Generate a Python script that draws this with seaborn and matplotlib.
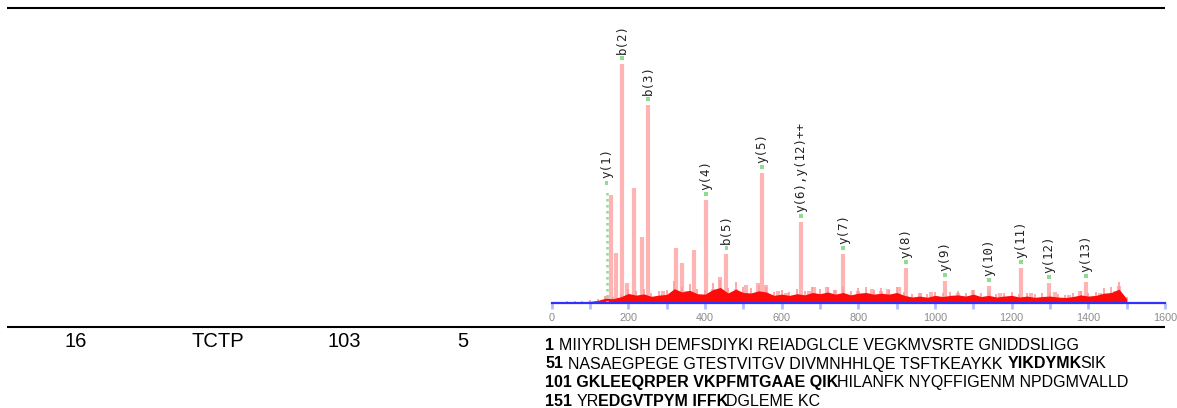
import matplotlib
matplotlib.use("Agg")
import matplotlib.pyplot as plt
from matplotlib.lines import Line2D
import numpy as np
import pandas as pd
import seaborn as sns

# ------------------------------------------------------------------ data
row_cells = ["16", "TCTP", "103", "5"]

# annotated fragment ions: label, m/z, intensity (% of base peak) at label
ion_labels = ["y(1)", "b(2)", "b(3)", "y(4)", "b(5)", "y(5)", "y(6),y(12)++",
              "y(7)", "y(8)", "y(9)", "y(10)", "y(11)", "y(12)", "y(13)"]
ion_mz = [143, 184, 252, 402, 456, 549.5, 649.5, 761, 924, 1026, 1141, 1224, 1298, 1394]
ion_int = [47.9, 100, 82.8, 43.1, 20.5, 54.4, 33.9, 20.5, 14.6, 9.2, 7.1, 14.6, 8.4, 8.8]

# centroided peaks (m/z, relative intensity %)
peak_mz = [143, 156, 167, 184, 196, 215, 236, 252, 290, 323, 340, 350, 371, 401.7,
           420, 439, 456, 480, 508, 539, 549.5, 559, 590, 612, 649.5, 670, 684, 717,
           739, 761, 800, 835, 860, 878, 907, 924, 960, 990, 1026, 1060, 1100, 1141,
           1170, 1224, 1250, 1298, 1313, 1350, 1379, 1394, 1430, 1470, 1481]
peak_int = [3, 45.2, 20.9, 100, 8.4, 48.1, 27.6, 82.8, 5, 23, 16.7, 5, 22.2, 43.1,
            6, 10.9, 20.5, 6, 7.5, 8.4, 54.4, 7.5, 5, 4, 33.9, 5, 6.7, 6.7,
            5.4, 20.5, 5, 5.9, 5, 5.9, 6.7, 14.6, 4, 4.5, 9.2, 4, 5.4, 7.1,
            4, 14.6, 4, 8.4, 4.6, 3.5, 5, 8.8, 4, 5, 7.1]

# low-level background (m/z, relative intensity %)
noise_mz = [40, 60, 80, 100, 120, 140, 160, 180, 200, 220, 240, 260, 280, 300,
            320, 340, 360, 380, 400, 420, 440, 460, 480, 500, 520, 540, 560, 580,
            600, 620, 640, 660, 680, 700, 720, 740, 760, 780, 800, 820, 840, 860,
            880, 900, 920, 940, 960, 980, 1000, 1020, 1040, 1060, 1080, 1100, 1120,
            1140, 1160, 1180, 1200, 1220, 1240, 1260, 1280, 1300, 1320, 1340, 1360,
            1380, 1400, 1420, 1440, 1460, 1480, 1500]
noise_int = [0.5, 0.6, 0.6, 0.7, 1.1, 2.0, 1.8, 2.6, 4.0, 3.3, 3.8, 2.8, 3.3, 3.6,
             6.0, 4.6, 5.3, 3.9, 3.7, 5.6, 6.5, 4.2, 5.8, 4.4, 4.2, 5.1, 4.6, 3.2,
             3.7, 3.2, 3.9, 3.4, 4.4, 3.9, 4.6, 3.7, 4.4, 3.4, 4.1, 4.4, 3.7, 4.1,
             3.7, 4.4, 3.2, 2.5, 2.9, 2.4, 3.2, 2.7, 3.2, 3.4, 2.9, 3.7, 2.7,
             3.2, 2.5, 2.9, 3.2, 2.5, 2.9, 2.4, 2.7, 2.9, 2.5, 2.3, 2.7,
             3.4, 2.9, 3.2, 4.1, 4.4, 5.8, 1.8]

x_tick_major = [0, 200, 400, 600, 800, 1000, 1200, 1400, 1600]
x_tick_minor = [100, 300, 500, 700, 900, 1100, 1300, 1500]

seq_lines = [
    [("1", True), (" MIIYRDLISH DEMFSDIYKI REIADGLCLE VEGKMVSRTE GNIDDSLIGG", False)],
    [("51", True), (" NASAEGPEGE GTESTVITGV DIVMNHHLQE TSFTKEAYKK ", False),
     ("YIKDYMK", True), ("SIK", False)],
    [("101 GKLEEQRPER VKPFMTGAAE QIK", True), ("HILANFK NYQFFIGENM NPDGMVALLD", False)],
    [("151", True), (" YR", False), ("EDGVTPYM IFFK", True), ("DGLEME KC", False)],
]

# ------------------------------------------------------------------ style
sns.set_theme(style="white")
plt.rcParams["font.family"] = ["Liberation Sans", "DejaVu Sans"]

W, H = 1177, 408
fig = plt.figure(figsize=(W / 100, H / 100), dpi=100)
fig.patch.set_facecolor("white")


def fx(x):
    return x / W


def fy(y):
    return 1 - y / H


# table rules
for yy in (7.5, 327):
    fig.add_artist(Line2D([fx(7), fx(1165)], [fy(yy), fy(yy)], color="black",
                          lw=1.5, solid_capstyle="butt"))

# row cells
row_x = [76, 218, 344, 463]
for s, cx in zip(row_cells, row_x):
    fig.text(fx(cx), fy(347), s, ha="center", va="baseline", fontsize=14.5,
             color="black", family="Liberation Sans")

# ------------------------------------------------------------------ spectrum
ax = fig.add_axes([fx(551.7), fy(303), (1165 - 551.7) / W, 239 / H])
ax.set_xlim(0, 1600)
ax.set_ylim(0, 100)
ax.patch.set_alpha(0)

peaks = pd.DataFrame({"mz": peak_mz, "intensity": peak_int})
noise = pd.DataFrame({"mz": noise_mz, "intensity": noise_int})
ions = pd.DataFrame({"label": ion_labels, "mz": ion_mz, "intensity": ion_int})

ax.vlines(peaks["mz"], 0, peaks["intensity"], color="#ffb4b4", lw=3.0, zorder=2)
ax.vlines(noise["mz"], 0, noise["intensity"] * 1.5, color="#ff9a9a", lw=1.2, zorder=2.5)
ax.fill_between(noise["mz"], 0, noise["intensity"], color="#ff0a0a", lw=0, zorder=3)

# y(1) dotted guide
ax.vlines([ion_mz[0]], 0, ion_int[0], color="#8fdc8f", lw=1.8,
          linestyles=(0, (1, 1.4)), zorder=4)

ions["dot"] = ions["intensity"] + 2.4
sns.scatterplot(data=ions, x="mz", y="dot", marker="s", s=8, color="#8fdc8f",
                edgecolor="none", ax=ax, zorder=5, clip_on=False)
for _, r in ions.iterrows():
    ax.text(r["mz"], r["intensity"] + 4.3, r["label"], rotation=90, ha="center",
            va="bottom", fontsize=9.0, family="DejaVu Sans Mono", color="#222222",
            clip_on=False)

ax.set_xlabel("")
ax.set_ylabel("")
for side in ("top", "left", "right"):
    ax.spines[side].set_visible(False)
ax.spines["bottom"].set_color("#3030ff")
ax.spines["bottom"].set_linewidth(1.6)
ax.spines["bottom"].set_zorder(6)
ax.set_yticks([])
ax.set_xticks(x_tick_major)
ax.set_xticklabels([str(v) for v in x_tick_major])
ax.set_xticks(x_tick_minor, minor=True)
ax.tick_params(axis="x", which="both", direction="out", length=4.5, width=2.0,
               color="#b4bcff", bottom=True, pad=3)
ax.tick_params(axis="x", which="major", labelsize=7.8, labelcolor="#8c8c8c")

# ------------------------------------------------------------------ sequence
SEQ_FS = 11.5
renderer = fig.canvas.get_renderer()


def measure(s, weight):
    t = fig.text(0, 0, s, fontsize=SEQ_FS, family="Liberation Sans", weight=weight)
    w = t.get_window_extent(renderer).width
    t.remove()
    return w


space_w = {w: measure("H H", w) - measure("HH", w) for w in ("normal", "bold")}
baselines = [350, 368.5, 387, 405.5]
for line, base in zip(seq_lines, baselines):
    x = 545
    for i, (seg, bold) in enumerate(line):
        wgt = "bold" if bold else "normal"
        lead = len(seg) - len(seg.lstrip(" "))
        trail = len(seg) - len(seg.rstrip(" "))
        core = seg.strip(" ")
        x += lead * space_w[wgt]
        t = fig.text(fx(x), fy(base), core, ha="left", va="baseline",
                     fontsize=SEQ_FS, family="Liberation Sans", weight=wgt,
                     color="black")
        nxt_lead = (i + 1 < len(line)) and line[i + 1][0].startswith(" ")
        joined = trail == 0 and not nxt_lead
        x += t.get_window_extent(renderer).width + (-1.5 if joined else 0.5)
        x += trail * space_w[wgt]

fig.savefig("out.png", dpi=100, facecolor="white")
